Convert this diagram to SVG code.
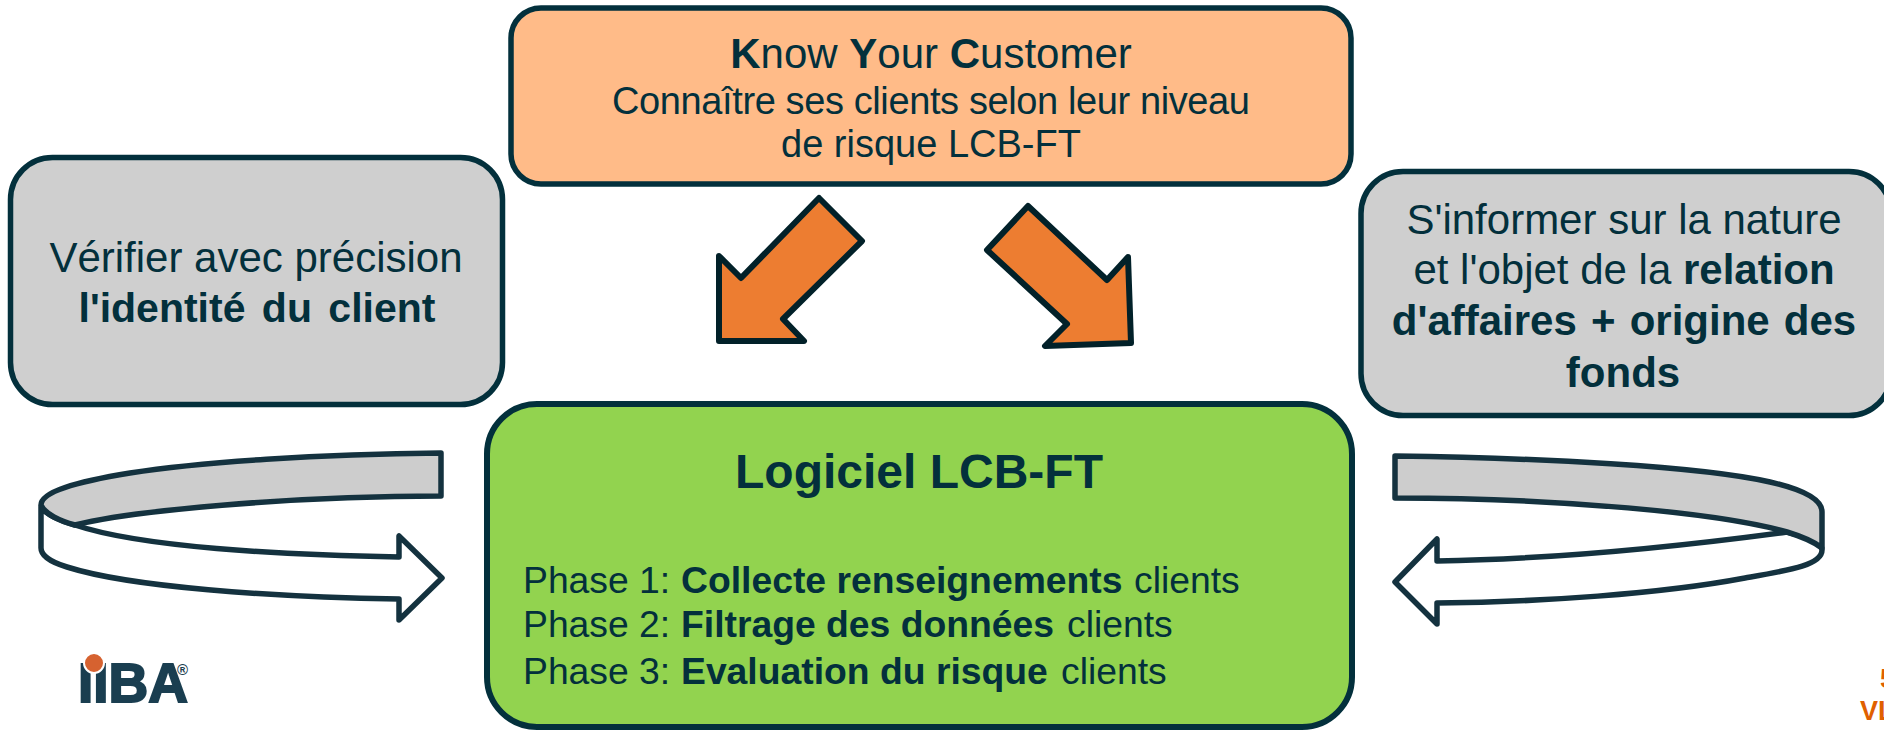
<svg xmlns="http://www.w3.org/2000/svg" width="1884" height="733" viewBox="0 0 1884 733">
<style>
text{font-family:"Liberation Sans",Arial,sans-serif;fill:#03303c}
.b{font-weight:700}
.box{stroke:#03303c;stroke-width:5.5}
.c{text-anchor:middle}
.s{stroke:#14323f;stroke-width:5.5;stroke-linejoin:round}
.o{fill:#ed7d31;stroke:#022129;stroke-width:6;stroke-linejoin:round}
.p{font-size:37.3px}
.m{font-size:42px}
.mark{font-weight:700;font-size:27px;fill:#e06000}
</style>
<rect width="1884" height="733" fill="#fff"/>
<g id="connectors">
<g id="arrow-left">
<path class="s" fill="#fff" d="M41 507V548C41 555 50 562 67 567C130 587 270 597 399 599V620L442 578L399 536V557C280 555 140 547 75 525C60 521 45 514 41 507Z"/>
<path class="s" fill="#cdcdcd" d="M441 453C320 454 200 462 130 473C75 482 41 492 41 505C45 514 60 521 75 525C130 511 290 496 441 496Z"/>
</g>
<g id="arrow-right">
<path class="s" fill="#fff" d="M1822 550C1822 565 1790 570 1745 578C1660 594 1540 602 1437 603V624L1395 582L1437 539V561C1560 559 1690 545 1787 532C1800 536 1822 540 1822 550Z"/>
<path class="s" fill="#cdcdcd" d="M1395 456C1540 458 1700 466 1770 482C1805 490 1822 500 1822 512V548C1812 540 1800 536 1787 532C1720 513 1560 498 1395 498Z"/>
</g>
<polygon id="arrow-down-left" class="o" points="819,198 862,241 783,319 804,341 719,341 719,256 741,278"/>
<polygon id="arrow-down-right" class="o" points="1028,206 987,250 1067,324 1045,346 1131,343 1128,257 1107,280"/>
</g>
<g id="node-kyc">
<rect class="box" x="511" y="8" width="840" height="176" rx="30" fill="#ffbb88"/>
<text class="c" x="931" y="68" font-size="42"><tspan class="b">K</tspan>now <tspan class="b">Y</tspan>our <tspan class="b">C</tspan>ustomer</text>
<text class="c" x="931" y="114" font-size="38" textLength="638">Connaître ses clients selon leur niveau</text>
<text class="c" x="931" y="157" font-size="38">de risque LCB-FT</text>
</g>
<g id="node-identite">
<rect class="box" x="10.5" y="157.5" width="492" height="247" rx="42" fill="#cfcfcf"/>
<text class="c m" x="256" y="272">Vérifier avec précision</text>
<text class="c b" x="257" y="322" font-size="41" word-spacing="5">l'identité du client</text>
</g>
<g id="node-relation">
<rect class="box" x="1361" y="171.5" width="530" height="244" rx="42" fill="#cfcfcf"/>
<text class="c m" x="1624" y="234">S'informer sur la nature</text>
<text class="c m" x="1624" y="284">et l'objet de la <tspan class="b">relation</tspan></text>
<text class="c m b" x="1624" y="335" word-spacing="2.5">d'affaires + origine des</text>
<text class="c m b" x="1623" y="387">fonds</text>
</g>
<g id="node-logiciel">
<rect class="box" x="487" y="404" width="865" height="323" rx="50" fill="#92d34f" style="stroke-width:6"/>
<text class="c b" x="919" y="488" font-size="48">Logiciel LCB-FT</text>
<text class="p" x="523" y="593">Phase 1: <tspan class="b" x="681">Collecte renseignements</tspan> <tspan x="1134">clients</tspan></text>
<text class="p" x="523" y="637">Phase 2: <tspan class="b" x="681">Filtrage des données</tspan> <tspan x="1067">clients</tspan></text>
<text class="p" x="523" y="684">Phase 3: <tspan class="b" x="681">Evaluation du risque</tspan> <tspan x="1061">clients</tspan></text>
</g>
<g id="logo">
<text x="78" y="702" font-size="55" class="b" style="fill:#1a3e50;stroke:#1a3e50;stroke-width:2">IIBA<tspan font-size="15" dx="-11" dy="-27" style="stroke:none">®</tspan></text>
<circle cx="94" cy="663" r="10" fill="#d66230" stroke="#fff" stroke-width="2"/>
</g>
<g id="page-mark">
<text class="mark" x="1880" y="688">5</text>
<text class="mark" x="1860" y="720">VL</text>
</g>
</svg>
